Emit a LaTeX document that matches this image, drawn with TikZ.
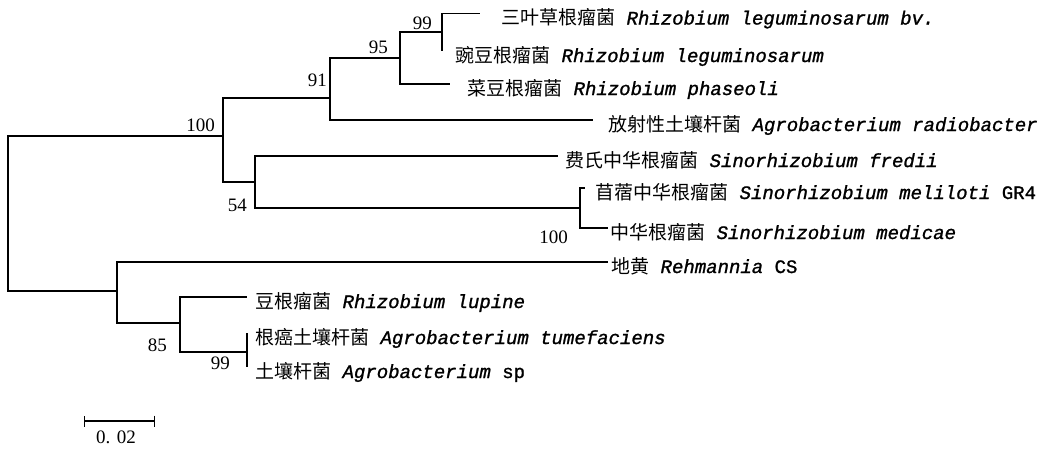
\documentclass[tikz,border=0pt]{standalone}
\usepackage{fontspec}
\setmainfont{Liberation Serif}
\newfontfamily\cjk{Noto Sans CJK SC}
\newfontfamily\latn[UprightFeatures={FakeBold=1.2}, ItalicFeatures={FakeBold=1.2}]{Liberation Mono}
\usetikzlibrary{arrows.meta}
\newcommand{\taxon}[2]{{\cjk #1}{\latn\itshape\ #2}}

\begin{document}
\begin{tikzpicture}[
    x=1pt, y=-1pt,
    font=\fontsize{19}{19}\selectfont,
    rama/.style={line width=1.1pt},
    hoja/.style={anchor=base west, inner sep=0pt, yshift=-11pt},
    boot/.style={anchor=base east, inner sep=0pt}
  ]
  \useasboundingbox (0,0) rectangle (1042,450);
  \coordinate (raiz) at (8,213);
  \coordinate (nA) at (223,136);
  \coordinate (nB) at (330,98);
  \coordinate (nC) at (400,58);
  \coordinate (nD) at (442,32);
  \coordinate (nE) at (255,182);
  \coordinate (nF) at (580,208);
  \coordinate (nG) at (117,291);
  \coordinate (nH) at (180,323);
  \coordinate (nI) at (247,352);
  \coordinate (e1) at (480,13.5);
  \coordinate (e2) at (442,51);
  \coordinate (e3) at (450,84);
  \coordinate (e4) at (593,120);
  \coordinate (e5) at (558,156);
  \coordinate (e6) at (585,188);
  \coordinate (e7) at (608,228);
  \coordinate (e8) at (608,262);
  \coordinate (e9) at (247,297);
  \coordinate (e10) at (247,333);
  \coordinate (e11) at (247,367);
  \foreach \p/\h in {raiz/nA, raiz/nG, nA/nB, nA/nE, nB/nC, nB/e4, nC/nD, nC/e3,
      nD/e1, nD/e2, nE/e5, nE/nF, nF/e6, nF/e7, nG/e8, nG/nH, nH/e9, nH/nI,
      nI/e10, nI/e11}
    \draw[rama] (\p) |- (\h);
  \node[hoja] (t1) at (501,13.5) {\taxon{三叶草根瘤菌}{Rhizobium leguminosarum bv.}};
  \node[hoja] (t2) at (455,51) {\taxon{豌豆根瘤菌}{Rhizobium leguminosarum}};
  \node[hoja] (t3) at (467,84) {\taxon{菜豆根瘤菌}{Rhizobium phaseoli}};
  \node[hoja] (t4) at (608,120) {\taxon{放射性土壤杆菌}{Agrobacterium radiobacter}};
  \node[hoja] (t5) at (565,156) {\taxon{费氏中华根瘤菌}{Sinorhizobium fredii}};
  \node[hoja] (t6) at (595,188) {\taxon{苜蓿中华根瘤菌}{Sinorhizobium meliloti \upshape GR4}};
  \node[hoja] (t7) at (610,228) {\taxon{中华根瘤菌}{Sinorhizobium medicae}};
  \node[hoja] (t8) at (611,262) {\taxon{地黄}{Rehmannia \upshape CS}};
  \node[hoja] (t9) at (255,297) {\taxon{豆根瘤菌}{Rhizobium lupine}};
  \node[hoja] (t10) at (255,333) {\taxon{根癌土壤杆菌}{Agrobacterium tumefaciens}};
  \node[hoja] (t11) at (255,367) {\taxon{土壤杆菌}{Agrobacterium \upshape sp}};
  \node[boot] (bA) at (215,131.5) {100};
  \node[boot] (bB) at (327,86.5) {91};
  \node[boot] (bC) at (388,53.5) {95};
  \node[boot] (bD) at (432,29.5) {99};
  \node[boot] (bE) at (247,211.5) {54};
  \node[boot] (bF) at (568,243.5) {100};
  \node[boot] (bH) at (167,351.5) {85};
  \node[boot] (bI) at (230,369.5) {99};
  \coordinate (s0) at (84,421);
  \coordinate (s1) at (155,421);
  \draw[rama, {Bar[width=11pt]}-{Bar[width=11pt]}] (s0) -- (s1);
  \node (escala) at (116,437) {0. 02};
\end{tikzpicture}
\end{document}
